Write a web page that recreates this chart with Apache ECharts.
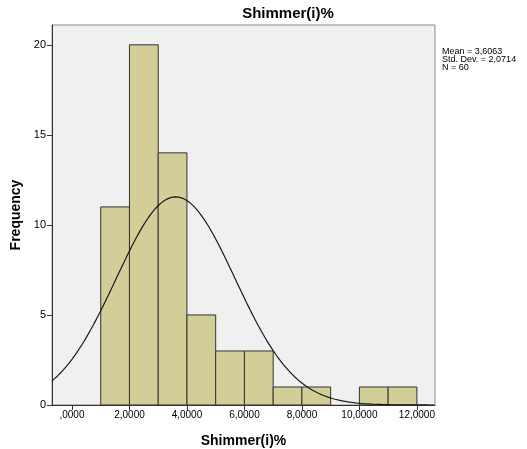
<!DOCTYPE html>
<html>
<head>
<meta charset="utf-8">
<script src="https://cdn.jsdelivr.net/npm/echarts@6/dist/echarts.min.js"></script>
<style>
  html, body { margin: 0; padding: 0; background: #ffffff; }
  #chart { width: 527px; height: 449px; }
</style>
</head>
<body>
<div id="chart"></div>
<script>
// Histogram bins (lower edge, upper edge) and frequencies
const binLower = [1, 2, 3, 4, 5, 6, 7, 8, 9, 10, 11];
const binUpper = [2, 3, 4, 5, 6, 7, 8, 9, 10, 11, 12];
const frequencies = [11, 20, 14, 5, 3, 3, 1, 1, 0, 1, 1];

// Summary statistics shown beside the plot
const statMean = 3.6063;
const statStdDev = 2.0714;
const statN = 60;

// Axis tick labels
const xTicks = [0, 2, 4, 6, 8, 10, 12];
const yTicks = [0, 5, 10, 15, 20];

const xMin = -0.695, xMax = 12.63;
const yMin = 0, yMax = 21.1;

const fmtComma = (v) => {
  let s = v.toFixed(4).replace('.', ',');
  if (s.startsWith('0,')) s = s.slice(1);
  return s;
};

// Normal curve scaled to counts: N * binWidth * pdf(x)
const binWidth = binUpper[0] - binLower[0];
const normalCurve = [];
for (let x = xMin; x <= xMax + 1e-9; x += 0.05) {
  const z = (x - statMean) / statStdDev;
  const y = statN * binWidth * Math.exp(-0.5 * z * z) / (statStdDev * Math.sqrt(2 * Math.PI));
  normalCurve.push([x, y]);
}

const histData = binLower.map((lo, i) => [lo, binUpper[i], frequencies[i]]);

const chart = echarts.init(document.getElementById('chart'), null, { renderer: 'canvas' });
const font = 'Liberation Sans, Arial, sans-serif';

chart.setOption({
  animation: false,
  backgroundColor: '#ffffff',
  graphic: [
    {
      type: 'text',
      x: 288,
      y: 14,
      style: {
        text: 'Shimmer(i)%',
        font: 'bold 15px ' + font,
        fill: '#000',
        align: 'center',
        verticalAlign: 'middle'
      }
    },
    {
      type: 'text',
      x: 442,
      y: 48,
      style: {
        text: 'Mean = ' + fmtComma(statMean) + '\nStd. Dev. = ' + fmtComma(statStdDev) + '\nN = ' + statN,
        font: '9px ' + font,
        lineHeight: 8,
        fill: '#000'
      }
    }
  ],
  grid: {
    left: 52, right: 92, top: 25, bottom: 44,
    outerBoundsMode: 'none',
    containLabel: false,
    show: true,
    backgroundColor: '#f0f0f0',
    borderColor: '#8a8a8a',
    borderWidth: 1
  },
  xAxis: {
    type: 'value',
    min: xMin, max: xMax,
    name: 'Shimmer(i)%',
    nameLocation: 'middle',
    nameGap: 29,
    nameTextStyle: { fontFamily: font, fontSize: 14, fontWeight: 'bold', color: '#000' },
    splitLine: { show: false },
    axisLine: { show: true, onZero: false, lineStyle: { color: '#333', width: 1 } },
    axisTick: { show: true, length: 5, customValues: xTicks, lineStyle: { color: '#333' } },
    axisLabel: {
      customValues: xTicks,
      formatter: fmtComma,
      fontFamily: font, fontSize: 10, color: '#000', margin: 5
    }
  },
  yAxis: {
    type: 'value',
    min: yMin, max: yMax,
    name: 'Frequency',
    nameLocation: 'middle',
    nameGap: 23,
    nameTextStyle: { fontFamily: font, fontSize: 14, fontWeight: 'bold', color: '#000' },
    splitLine: { show: false },
    axisLine: { show: true, onZero: false, lineStyle: { color: '#333', width: 1 } },
    axisTick: { show: true, length: 5, customValues: yTicks, lineStyle: { color: '#333' } },
    axisLabel: {
      customValues: yTicks,
      fontFamily: font, fontSize: 11, color: '#000', margin: 6
    }
  },
  series: [
    {
      type: 'custom',
      data: histData,
      encode: { x: [0, 1], y: 2 },
      renderItem: (params, api) => {
        const lo = api.value(0), hi = api.value(1), c = api.value(2);
        if (!c) return null;
        const pTop = api.coord([lo, c]);
        const pBot = api.coord([hi, 0]);
        return {
          type: 'rect',
          shape: { x: pTop[0], y: pTop[1], width: pBot[0] - pTop[0], height: pBot[1] - pTop[1] },
          style: { fill: '#d3ce98', stroke: '#333333', lineWidth: 1 }
        };
      },
      z: 2
    },
    {
      type: 'line',
      data: normalCurve,
      showSymbol: false,
      smooth: false,
      clip: true,
      lineStyle: { color: '#1a1a1a', width: 1.2 },
      z: 3
    }
  ]
});
</script>
</body>
</html>
